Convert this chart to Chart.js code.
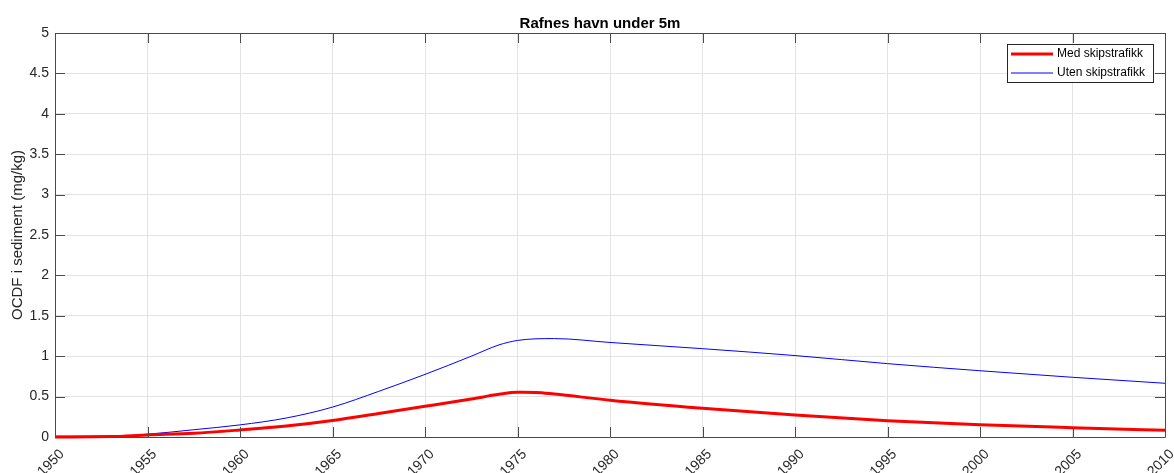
<!DOCTYPE html>
<html>
<head>
<meta charset="utf-8">
<script src="https://cdn.jsdelivr.net/npm/chart.js@4/dist/chart.umd.min.js"></script>
<style>
  html, body { margin: 0; padding: 0; background: #ffffff; }
  #wrap { width: 1174px; height: 473px; }
</style>
</head>
<body>
<div id="wrap"><canvas id="c" width="1174" height="473"></canvas></div>
<script>
// Modelled OCDF concentration in sediment, Rafnes harbour, depth under 5 m
const years = [1950, 1953, 1955, 1957.5, 1960, 1962.5, 1965, 1967.5, 1970, 1972.5, 1974, 1975, 1976, 1977, 1980, 1985, 1990, 1995, 2000, 2005, 2010];
const medSkipstrafikk  = [0.0, 0.005, 0.025, 0.046, 0.087, 0.136, 0.205, 0.292, 0.38, 0.47, 0.528, 0.553, 0.552, 0.532, 0.455, 0.355, 0.272, 0.202, 0.152, 0.115, 0.083];
const utenSkipstrafikk = [0.01, 0.01, 0.035, 0.09, 0.15, 0.235, 0.37, 0.565, 0.775, 1.0, 1.14, 1.195, 1.215, 1.218, 1.17, 1.093, 1.008, 0.908, 0.82, 0.739, 0.665];
const seriesNames = ['Med skipstrafikk', 'Uten skipstrafikk'];
const chartTitle = 'Rafnes havn under 5m';
const yTitle = 'OCDF i sediment (mg/kg)';

const FONT = '"Liberation Sans", Arial, Helvetica, sans-serif';
const INK = '#262626';

const toPoints = vals => vals.map((v, i) => ({ x: years[i], y: v }));

// Axes box with inward ticks on all four sides, title, y label and legend
const frame = {
  id: 'frame',
  afterDraw(chart) {
    const { ctx, chartArea: a, scales } = chart;
    const tl = 10;
    ctx.save();
    ctx.strokeStyle = '#4a4a4a';
    ctx.lineWidth = 1;
    ctx.beginPath();
    ctx.rect(Math.round(a.left) + 0.5, Math.round(a.top) + 0.5,
             Math.round(a.right - a.left), Math.round(a.bottom - a.top));
    scales.x.ticks.forEach(t => {
      const px = Math.round(scales.x.getPixelForValue(t.value)) + 0.5;
      ctx.moveTo(px, a.bottom); ctx.lineTo(px, a.bottom - tl);
      ctx.moveTo(px, a.top); ctx.lineTo(px, a.top + tl);
    });
    scales.y.ticks.forEach(t => {
      const py = Math.round(scales.y.getPixelForValue(t.value)) + 0.5;
      ctx.moveTo(a.left, py); ctx.lineTo(a.left + tl, py);
      ctx.moveTo(a.right, py); ctx.lineTo(a.right - tl, py);
    });
    ctx.stroke();

    // title
    ctx.fillStyle = '#000';
    ctx.font = 'bold 15px ' + FONT;
    ctx.textAlign = 'center';
    ctx.textBaseline = 'middle';
    ctx.fillText(chartTitle, (a.left + a.right) / 2 - 10, 24);

    // y-axis title
    ctx.save();
    ctx.translate(18, (a.top + a.bottom) / 2);
    ctx.rotate(-Math.PI / 2);
    ctx.fillStyle = INK;
    ctx.font = '15px ' + FONT;
    ctx.fillText(yTitle, 0, 0);
    ctx.restore();

    // legend box
    const lw = 146, lh = 38;
    const lx = Math.round(a.right - 12 - lw), ly = Math.round(a.top + 11);
    ctx.fillStyle = '#fff';
    ctx.fillRect(lx, ly, lw, lh);
    ctx.strokeStyle = INK;
    ctx.lineWidth = 1;
    ctx.strokeRect(lx + 0.5, ly + 0.5, lw, lh);
    ctx.font = '12px ' + FONT;
    ctx.textAlign = 'left';
    ctx.textBaseline = 'middle';
    chart.data.datasets.forEach((ds, i) => {
      const yy = ly + 10 + i * 19;
      ctx.strokeStyle = ds.borderColor;
      ctx.lineWidth = ds.borderWidth;
      ctx.beginPath();
      ctx.moveTo(lx + 4, yy); ctx.lineTo(lx + 46, yy);
      ctx.stroke();
      ctx.fillStyle = '#000';
      ctx.fillText(ds.label, lx + 50, yy);
    });
    ctx.restore();
  }
};

new Chart(document.getElementById('c'), {
  type: 'line',
  data: {
    datasets: [
      {
        label: seriesNames[0],
        data: toPoints(medSkipstrafikk),
        borderColor: '#ff0000',
        borderWidth: 3,
        pointRadius: 0,
        cubicInterpolationMode: 'monotone',
        clip: 6
      },
      {
        label: seriesNames[1],
        data: toPoints(utenSkipstrafikk),
        borderColor: '#0000ff',
        borderWidth: 1,
        pointRadius: 0,
        cubicInterpolationMode: 'monotone',
        clip: 6
      }
    ]
  },
  options: {
    responsive: false,
    animation: false,
    devicePixelRatio: 1,
    layout: { padding: { top: 33, right: 9, left: 0, bottom: 0 } },
    plugins: {
      legend: { display: false },
      title: { display: false },
      tooltip: { enabled: false }
    },
    scales: {
      x: {
        type: 'linear',
        min: 1950,
        max: 2010,
        grid: { color: '#e3e3e3', drawTicks: false },
        border: { display: false },
        ticks: {
          stepSize: 5,
          autoSkip: false,
          minRotation: 45,
          maxRotation: 45,
          padding: 9,
          labelOffset: 7,
          color: INK,
          font: { family: FONT, size: 14 },
          callback: v => String(v)
        },
        afterFit: s => { s.height = 36; s.paddingLeft = 0; s.paddingRight = 0; }
      },
      y: {
        min: 0,
        max: 5,
        grid: { color: '#e3e3e3', drawTicks: false },
        border: { display: false },
        ticks: {
          stepSize: 0.5,
          padding: 6,
          color: INK,
          font: { family: FONT, size: 14 },
          callback: v => String(v)
        },
        afterFit: s => { s.width = 55; s.paddingTop = 0; s.paddingBottom = 0; }
      }
    }
  },
  plugins: [frame]
});
</script>
</body>
</html>
